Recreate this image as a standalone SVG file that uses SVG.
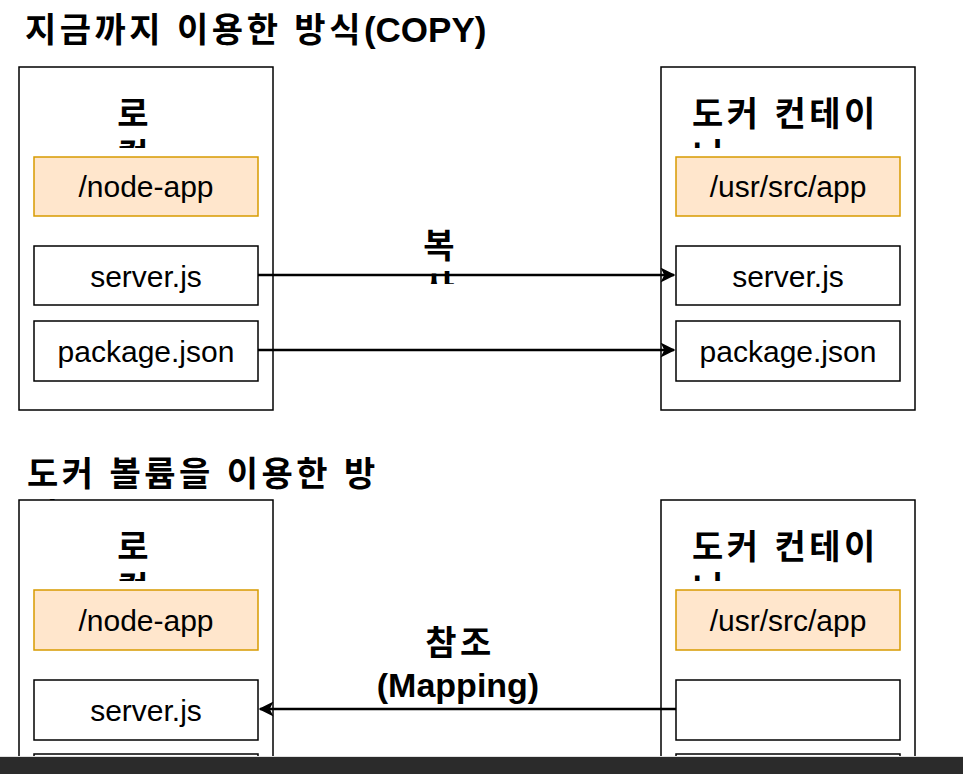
<svg xmlns="http://www.w3.org/2000/svg" width="963" height="774" viewBox="0 0 963 774">
<style>
.outer{fill:#fff;stroke:#000;stroke-width:1.5}
.item{fill:#fff;stroke:#000;stroke-width:1.5}
.dir{fill:#ffe6cc;stroke:#d79b00;stroke-width:1.5}
.lbl{font-family:"Liberation Sans","Noto Sans CJK KR",sans-serif;font-size:30px;fill:#000;text-anchor:middle}
.hd{font-family:"Liberation Sans","Noto Sans CJK KR",sans-serif;font-size:34px;font-weight:bold;fill:#000}
.ko{letter-spacing:3.5px}
.conn{fill:none;stroke:#000;stroke-width:2.5}
</style>
<defs>
<marker id="arr" viewBox="0 0 10 10" refX="9" refY="5" markerWidth="6.5" markerHeight="6" orient="auto" markerUnits="strokeWidth">
<path d="M0,0 L10,5 L0,10 L2.5,5 Z" fill="#000"/>
</marker>
<clipPath id="c1"><rect x="0" y="0" width="963" height="148"/></clipPath>
<clipPath id="c2"><rect x="0" y="0" width="963" height="284"/></clipPath>
<clipPath id="c3"><rect x="0" y="0" width="963" height="500"/></clipPath>
<clipPath id="c4"><rect x="0" y="0" width="963" height="581"/></clipPath>
<clipPath id="page"><rect x="0" y="0" width="963" height="756"/></clipPath>
</defs>
<rect x="0" y="0" width="963" height="774" fill="#fff"/>

<g id="title-copy"><text class="hd" x="25" y="42"><tspan class="ko">지금까지 이용한 방식</tspan><tspan font-size="35">(COPY)</tspan></text></g>

<g id="local-top">
<rect class="outer" x="19" y="67" width="254" height="343"/>
<g clip-path="url(#c1)"><text class="hd" x="133" y="126" text-anchor="middle">로</text><text class="hd" x="133" y="168" text-anchor="middle">컬</text></g>
</g>
<g id="local-top-dir"><rect class="dir" x="34" y="157" width="224" height="59"/><text class="lbl" x="146" y="197">/node-app</text></g>
<g id="local-top-server"><rect class="item" x="34" y="246" width="224" height="59"/><text class="lbl" x="146" y="287">server.js</text></g>
<g id="local-top-package"><rect class="item" x="34" y="321" width="224" height="60"/><text class="lbl" x="146" y="362">package.json</text></g>

<g id="docker-top">
<rect class="outer" x="661" y="67" width="254" height="343"/>
<g clip-path="url(#c1)"><text class="hd ko" x="692" y="126">도커 컨테이</text><text class="hd" x="692" y="168">너</text></g>
</g>
<g id="docker-top-dir"><rect class="dir" x="676" y="157" width="224" height="59"/><text class="lbl" x="788" y="197">/usr/src/app</text></g>
<g id="docker-top-server"><rect class="item" x="676" y="246" width="224" height="59"/><text class="lbl" x="788" y="287">server.js</text></g>
<g id="docker-top-package"><rect class="item" x="676" y="321" width="224" height="60"/><text class="lbl" x="788" y="362">package.json</text></g>

<g id="title-volume"><g clip-path="url(#c3)"><text class="hd ko" x="27" y="486">도커 볼륨을 이용한 방</text><text class="hd" x="27" y="528">식</text></g></g>

<g clip-path="url(#page)">
<g id="local-bottom">
<rect class="outer" x="19" y="500" width="254" height="343"/>
<g clip-path="url(#c4)"><text class="hd" x="133" y="559" text-anchor="middle">로</text><text class="hd" x="133" y="601" text-anchor="middle">컬</text></g>
</g>
<g id="local-bottom-dir"><rect class="dir" x="34" y="590" width="224" height="60"/><text class="lbl" x="146" y="631">/node-app</text></g>
<g id="local-bottom-server"><rect class="item" x="34" y="680" width="224" height="60"/><text class="lbl" x="146" y="721">server.js</text></g>
<g id="local-bottom-package"><rect class="item" x="34" y="754" width="224" height="60"/></g>

<g id="docker-bottom">
<rect class="outer" x="661" y="500" width="254" height="343"/>
<g clip-path="url(#c4)"><text class="hd ko" x="692" y="559">도커 컨테이</text><text class="hd" x="692" y="601">너</text></g>
</g>
<g id="docker-bottom-dir"><rect class="dir" x="676" y="590" width="224" height="60"/><text class="lbl" x="788" y="631">/usr/src/app</text></g>
<g id="docker-bottom-file"><rect class="item" x="676" y="680" width="224" height="60"/></g>
<g id="docker-bottom-package"><rect class="item" x="676" y="754" width="224" height="60"/></g>
</g>

<g id="connectors">
<line class="conn" x1="258" y1="275" x2="674" y2="275" marker-end="url(#arr)"/>
<line class="conn" x1="258" y1="350" x2="674" y2="350" marker-end="url(#arr)"/>
<line class="conn" x1="676" y1="709" x2="260" y2="709" marker-end="url(#arr)"/>
<g clip-path="url(#c2)"><text class="hd" x="439" y="258" text-anchor="middle">복</text><text class="hd" x="439" y="300" text-anchor="middle">사</text></g>
<text class="hd ko" x="460" y="655" text-anchor="middle">참조</text>
<text class="hd" x="458" y="697" text-anchor="middle" font-size="36">(Mapping)</text>
</g>

<rect x="0" y="756" width="963" height="1" fill="#e0e0e0"/>
<rect x="0" y="757" width="963" height="17" fill="#2b2b2b"/>
</svg>
